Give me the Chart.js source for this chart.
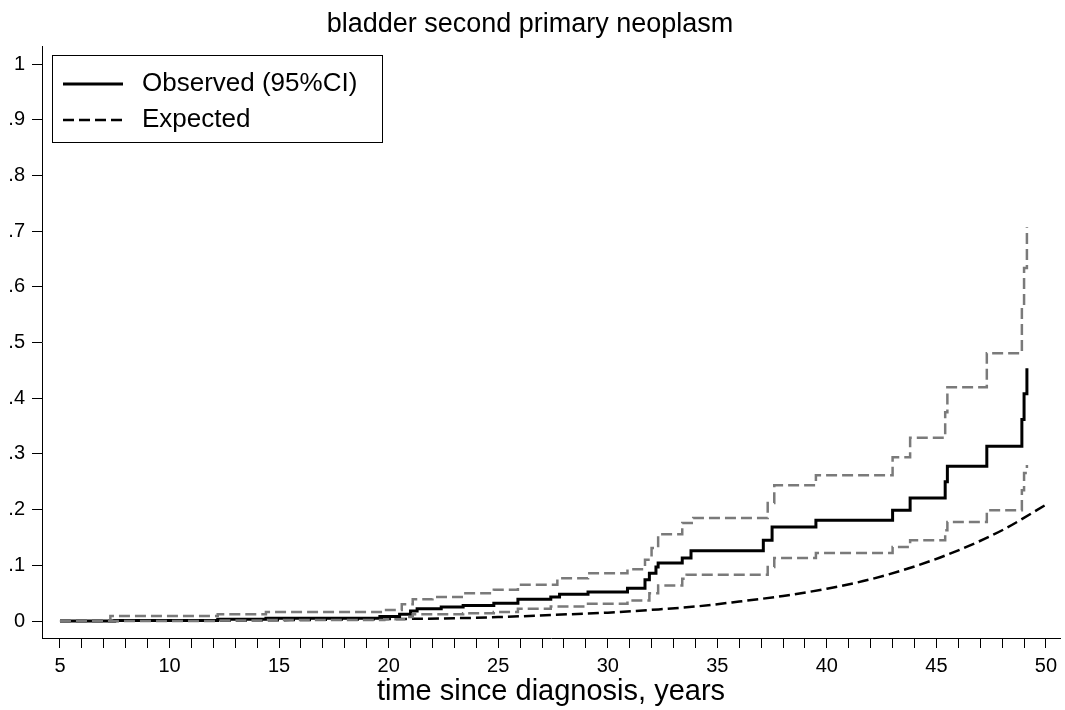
<!DOCTYPE html>
<html>
<head>
<meta charset="utf-8">
<script src="https://cdn.jsdelivr.net/npm/chart.js@4"></script>
<style>
  body { margin: 0; background: #fff; }
  #wrap { width: 1065px; height: 710px; }
</style>
</head>
<body>
<div id="wrap"><canvas id="grafico"></canvas></div>
<script>
// step times (years since diagnosis) and cumulative incidence
var obsTime  = [5, 7.5, 12.2, 14.4, 19.6, 20.5, 21.0, 21.3, 22.4, 23.4, 24.8, 25.9, 27.4, 27.8, 29.1, 30.9, 31.7, 31.9, 32.2, 32.3, 33.4, 33.8, 37.1, 37.5, 39.5, 43.0, 43.8, 45.4, 45.5, 47.3, 48.9, 49.0, 49.13];
var obsValue = [0, 0.001, 0.003, 0.005, 0.008, 0.012, 0.018, 0.022, 0.025, 0.028, 0.032, 0.039, 0.043, 0.048, 0.052, 0.059, 0.074, 0.086, 0.097, 0.104, 0.113, 0.126, 0.145, 0.169, 0.181, 0.199, 0.221, 0.25, 0.278, 0.314, 0.362, 0.408, 0.454];

var upperTime  = [5, 7.3, 12.2, 14.4, 19.8, 20.6, 21.1, 22.0, 23.4, 24.8, 25.9, 27.7, 29.1, 30.9, 31.7, 32.0, 32.3, 33.4, 33.9, 37.3, 37.6, 39.5, 43.0, 43.8, 45.4, 45.5, 47.3, 48.9, 49.0, 49.13];
var upperValue = [0, 0.009, 0.012, 0.016, 0.02, 0.03, 0.039, 0.043, 0.05, 0.056, 0.065, 0.077, 0.086, 0.093, 0.11, 0.131, 0.156, 0.176, 0.185, 0.212, 0.244, 0.262, 0.294, 0.329, 0.375, 0.42, 0.481, 0.564, 0.634, 0.707];

var lowerTime  = [5, 12.2, 14.4, 19.8, 20.7, 21.1, 23.4, 24.8, 25.9, 27.4, 29.1, 30.9, 31.9, 32.3, 33.4, 33.6, 37.3, 37.6, 39.5, 43.0, 43.8, 45.4, 45.5, 47.3, 48.9, 49.0, 49.13];
var lowerValue = [0, 0.001, 0.002, 0.003, 0.007, 0.012, 0.014, 0.016, 0.022, 0.026, 0.031, 0.037, 0.05, 0.064, 0.076, 0.083, 0.097, 0.113, 0.122, 0.133, 0.145, 0.163, 0.178, 0.199, 0.235, 0.266, 0.28];

var expTime  = [5, 10, 15, 20, 23, 25, 27.5, 30, 32, 34, 36, 38, 40, 42, 44, 46, 48, 50];
var expValue = [0, 0.0005, 0.0015, 0.0035, 0.005, 0.007, 0.011, 0.015, 0.02, 0.026, 0.035, 0.045, 0.058, 0.075, 0.098, 0.127, 0.163, 0.209];

var legendLabels = ["Observed (95%CI)", "Expected"];
var titulo = "bladder second primary neoplasm";
var tituloX = "time since diagnosis, years";

var fonte = "'Liberation Sans', Arial, sans-serif";

function pontos(xs, ys) {
    return xs.map(function(v, i) { return { x: v, y: ys[i] }; });
}

// legend box inside the plot, like the Stata original
var legendaBox = {
    id: 'legendaBox',
    afterDraw: function(chart) {
        var ctx = chart.ctx;
        ctx.save();
        ctx.fillStyle = '#fff';
        ctx.fillRect(52.5, 55.5, 330, 87);
        ctx.strokeStyle = '#000';
        ctx.lineWidth = 1;
        ctx.strokeRect(52.5, 55.5, 330, 87);

        ctx.lineWidth = 3;
        ctx.setLineDash([]);
        ctx.beginPath();
        ctx.moveTo(63, 84);
        ctx.lineTo(123, 84);
        ctx.stroke();

        ctx.lineWidth = 2.5;
        ctx.setLineDash([11, 5]);
        ctx.beginPath();
        ctx.moveTo(63, 120);
        ctx.lineTo(123, 120);
        ctx.stroke();
        ctx.setLineDash([]);

        ctx.fillStyle = '#000';
        ctx.font = "26px " + fonte;
        ctx.textBaseline = 'middle';
        ctx.fillText(legendLabels[0], 142, 84);
        ctx.fillText(legendLabels[1], 142, 120);
        ctx.restore();
    }
};

var ctx = document.getElementById("grafico");

var ChartGraph = new Chart(ctx, {
    type: 'line',
    data: {
        datasets: [
            {
                label: "upper",
                data: pontos(upperTime, upperValue),
                borderColor: '#7a7a7a',
                borderWidth: 2.5,
                borderDash: [11, 5],
                stepped: true,
                pointRadius: 0,
                fill: false
            },
            {
                label: "lower",
                data: pontos(lowerTime, lowerValue),
                borderColor: '#7a7a7a',
                borderWidth: 2.5,
                borderDash: [11, 5],
                stepped: true,
                pointRadius: 0,
                fill: false
            },
            {
                label: legendLabels[0],
                data: pontos(obsTime, obsValue),
                borderColor: '#000',
                borderWidth: 3,
                stepped: true,
                pointRadius: 0,
                fill: false
            },
            {
                label: legendLabels[1],
                data: pontos(expTime, expValue),
                borderColor: '#000',
                borderWidth: 2.5,
                borderDash: [11, 5],
                cubicInterpolationMode: 'monotone',
                pointRadius: 0,
                fill: false
            }
        ]
    },
    options: {
        responsive: true,
        maintainAspectRatio: false,
        animation: false,
        layout: { padding: { left: 0, right: 5, top: 0, bottom: 0 } },
        plugins: {
            legend: { display: false },
            tooltip: { enabled: false },
            title: {
                display: true,
                text: titulo,
                color: '#000',
                font: { family: fonte, size: 27, weight: 'normal' },
                padding: { top: 8, bottom: 6 }
            }
        },
        scales: {
            x: {
                type: 'linear',
                min: 4.18,
                max: 50.64,
                afterFit: function(scale) { scale.height = 72; },
                border: { display: true, color: '#000', width: 1 },
                grid: { drawOnChartArea: false, drawTicks: true, tickLength: 10, color: '#000', lineWidth: 1 },
                ticks: {
                    stepSize: 1,
                    includeBounds: false,
                    autoSkip: false,
                    maxRotation: 0,
                    padding: 6,
                    color: '#000',
                    font: { family: fonte, size: 20 },
                    callback: function(v) { return v % 5 === 0 ? String(v) : ''; }
                },
                title: {
                    display: true,
                    text: tituloX,
                    color: '#000',
                    font: { family: fonte, size: 29 },
                    padding: { top: 0, bottom: 1 }
                }
            },
            y: {
                type: 'linear',
                min: -0.0305,
                max: 1.032,
                afterFit: function(scale) { scale.width = 42; },
                border: { display: true, color: '#000', width: 1 },
                grid: { drawOnChartArea: false, drawTicks: true, tickLength: 10, color: '#000', lineWidth: 1 },
                ticks: {
                    stepSize: 0.1,
                    includeBounds: false,
                    autoSkip: false,
                    padding: 7,
                    color: '#000',
                    font: { family: fonte, size: 20 },
                    callback: function(v) {
                        var d = Math.round(v * 10);
                        if (d === 0) return '0';
                        if (d === 10) return '1';
                        return '.' + d;
                    }
                }
            }
        }
    },
    plugins: [legendaBox]
});
</script>
</body>
</html>
